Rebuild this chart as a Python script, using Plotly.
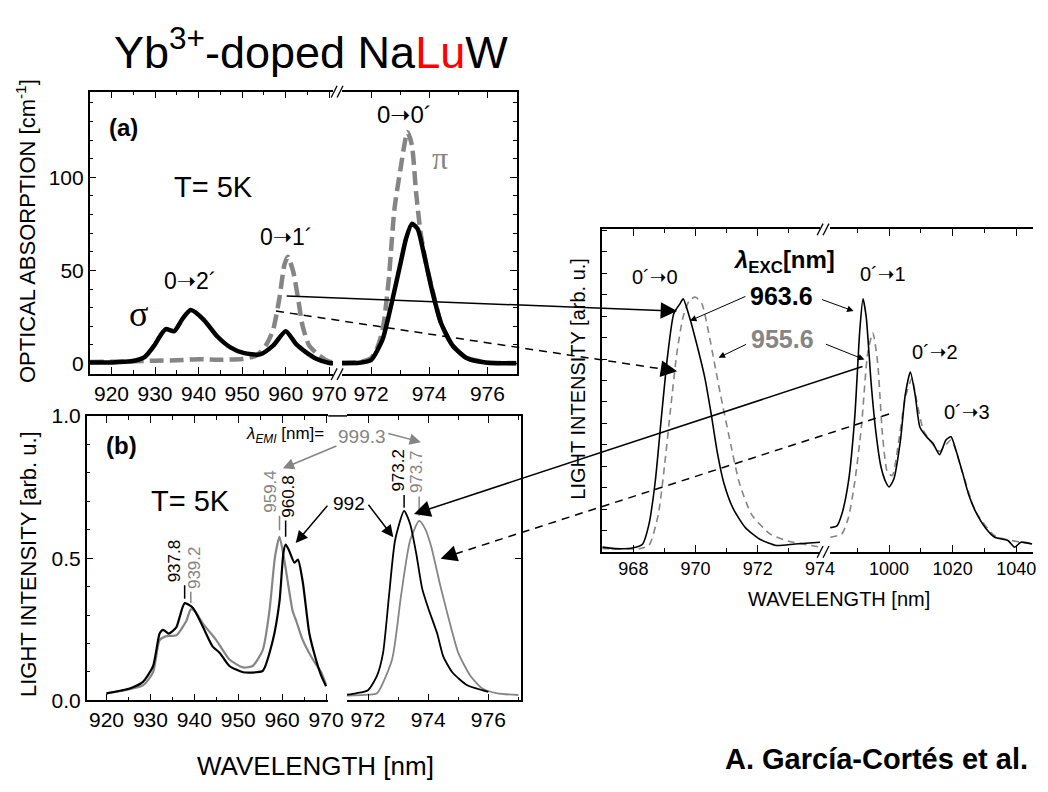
import plotly.graph_objects as go

W, H = 1048, 792
FONT = "Liberation Sans, Arial, Helvetica, sans-serif"
SERIF = "Liberation Serif, Times New Roman, serif"
BLACK = "#000000"
GRAY = "#858585"
ARR = "<span style='font-family:DejaVu Sans'>➝</span>"

# ---------------- (a) optical absorption, T = 5 K ----------------
a_sigma_left_x = [915, 920, 924.5, 927.6, 929.8, 931.4, 932.5, 934.4, 936.3, 938.2, 941.2,
                  944.2, 947.3, 950.3, 954.1, 957.1, 960.0, 962.4, 964.7, 967.0, 970.0, 970.9]
a_sigma_left_y = [0.5, 0.6, 1.2, 3.5, 9.6, 15.7, 18.5, 17.4, 24.0, 28.7, 23.5,
                  14.8, 8.7, 5.7, 4.9, 9.6, 17.4, 10.4, 6.0, 2.6, 0.3, 0.2]
a_pi_left_x = [915, 920, 925, 930, 935, 940, 945, 950, 953, 954.1, 955.5, 957.1, 958.6,
               959.7, 960.5, 961.7, 962.8, 963.9, 965.4, 967.7, 970.0, 970.9]
a_pi_left_y = [0.8, 1.0, 1.3, 1.5, 1.8, 2.3, 2.0, 2.5, 4.0, 6.0, 10.0, 18.0, 35.6,
               53.0, 57.4, 49.6, 35.6, 20.0, 9.6, 4.3, 1.0, 0.8]
a_sigma_right_x = [971.0, 971.6, 972.0, 972.4, 972.7, 973.0, 973.2, 973.4, 973.6, 973.8,
                   974.1, 974.4, 974.8, 975.3, 976.0, 977.0]
a_sigma_right_y = [0.2, 0.4, 1.9, 13.2, 32.0, 53.0, 67.0, 75.0, 72.3, 60.0,
                   39.0, 21.9, 9.7, 2.8, 0.4, 0.2]
a_pi_right_x = [971.0, 971.6, 972.0, 972.2, 972.4, 972.6, 972.8, 973.0, 973.25, 973.4,
                973.55, 973.7, 973.9, 974.1, 974.4, 974.8, 975.3, 976.0, 977.0]
a_pi_right_y = [0.5, 0.8, 3.0, 8.0, 18.4, 44.0, 82.6, 103.5, 124.3, 117.4,
                91.3, 70.5, 53.0, 40.0, 22.0, 9.5, 3.0, 0.6, 0.3]

# ---------------- (b) excitation spectra, lambda_EMI = 992 / 999.3 nm ----------------
b_992_left_x = [920, 925.3, 928.3, 930.6, 932.1, 932.9, 934.2, 935.9, 937.8, 939.7, 942.0,
                944.2, 945.8, 948.0, 951.1, 954.1, 955.6, 957.9, 959.4, 960.3, 960.8, 961.5,
                962.8, 963.6, 964.7, 966.2, 967.7, 968.9, 970.0]
b_992_left_y = [0.025, 0.042, 0.065, 0.12, 0.235, 0.248, 0.235, 0.257, 0.342, 0.325, 0.257,
                0.189, 0.167, 0.121, 0.099, 0.099, 0.104, 0.212, 0.348, 0.52, 0.548, 0.53,
                0.484, 0.495, 0.416, 0.235, 0.144, 0.087, 0.05]
b_999_left_x = [920, 928.3, 930.6, 932.1, 933.6, 935.9, 938.2, 939.2, 940.2, 942.0, 945.0,
                948.0, 951.1, 953.3, 955.6, 957.1, 958.4, 959.4, 960.6, 962.4, 963.2, 964.7,
                967.0, 968.9, 970.0]
b_999_left_y = [0.025, 0.053, 0.099, 0.212, 0.226, 0.229, 0.28, 0.32, 0.312, 0.269, 0.212,
                0.144, 0.116, 0.121, 0.178, 0.314, 0.507, 0.575, 0.484, 0.314, 0.28, 0.212,
                0.144, 0.099, 0.055]
b_992_right_x = [971.3, 971.6, 972.0, 972.3, 972.5, 972.7, 972.9, 973.2, 973.4, 973.6, 973.8,
                 974.0, 974.3, 974.5, 974.8, 975.3, 975.8, 976.0]
b_992_right_y = [0.02, 0.025, 0.036, 0.087, 0.167, 0.37, 0.563, 0.666, 0.62, 0.518, 0.393,
                 0.325, 0.235, 0.155, 0.099, 0.053, 0.036, 0.03]
b_999_right_x = [971.3, 972.0, 972.3, 972.8, 973.1, 973.4, 973.7, 973.9, 974.1, 974.4, 974.7,
                 975.0, 975.4, 975.8, 976.3, 977.0]
b_999_right_y = [0.017, 0.02, 0.025, 0.144, 0.37, 0.563, 0.631, 0.603, 0.541, 0.405, 0.28,
                 0.167, 0.087, 0.042, 0.025, 0.019]

# peak markers in (b): label value, colour, marker bottom / top, horizontal label shift (px)
b_peaks_left = [(937.8, BLACK, 0.357, 0.405, -10), (939.2, GRAY, 0.342, 0.382, 3),
                (959.4, GRAY, 0.598, 0.649, -9), (960.8, BLACK, 0.575, 0.632, 2)]
b_peaks_right = [(973.2, BLACK, 0.677, 0.722, -6), (973.7, GRAY, 0.649, 0.717, -2)]

# ---------------- right panel: emission spectra, lambda_EXC = 963.6 / 955.6 nm ----------------
c_9636_left_x = [967.0, 967.4, 968.0, 968.3, 968.5, 968.7, 968.9, 969.1, 969.3, 969.5, 969.6,
                 969.8, 970.05, 970.3, 970.5, 970.7, 970.9, 971.2, 971.6, 972.05, 972.6, 973.2, 974.0]
c_9636_left_y = [0.022, 0.015, 0.019, 0.037, 0.128, 0.325, 0.628, 0.916, 1.113, 1.159, 1.181,
                 1.098, 0.962, 0.81, 0.644, 0.462, 0.325, 0.204, 0.113, 0.06, 0.03, 0.037, 0.045]
c_9556_left_x = [967.0, 968.2, 968.5, 968.8, 969.0, 969.2, 969.4, 969.6, 969.8, 970.0, 970.2,
                 970.4, 970.6, 970.8, 971.1, 971.4, 971.8, 972.4, 972.9, 973.7, 974.0]
c_9556_left_y = [0.015, 0.015, 0.03, 0.174, 0.401, 0.674, 0.931, 1.098, 1.174, 1.189, 1.159,
                 1.037, 0.886, 0.734, 0.522, 0.325, 0.174, 0.083, 0.053, 0.03, 0.022]
c_9636_right_x = [981.5, 983.6, 985.1, 987.2, 989.2, 990.8, 991.8, 992.8, 994.4, 995.9, 997.4,
                  999.0, 1000.0, 1001.5, 1003.6, 1005.1, 1006.7, 1008.2, 1009.7, 1011.8, 1013.8,
                  1015.9, 1017.9, 1019.5, 1021.0, 1023.1, 1025.1, 1027.2, 1030.3, 1033.3, 1037.4,
                  1039.5, 1041.5, 1045.0]
c_9636_right_y = [0.113, 0.121, 0.174, 0.325, 0.628, 1.037, 1.181, 1.098, 0.78, 0.553, 0.401,
                  0.325, 0.303, 0.34, 0.522, 0.734, 0.84, 0.734, 0.583, 0.537, 0.507,
                  0.454, 0.522, 0.537, 0.477, 0.371, 0.265, 0.189, 0.113, 0.068, 0.053,
                  0.022, 0.045, 0.037]
c_9556_right_x = [981.5, 985.1, 987.2, 989.2, 991.3, 993.3, 994.9, 996.4, 997.9, 999.5, 1001.0,
                  1003.1, 1005.1, 1007.2, 1008.7, 1010.8, 1012.8, 1015.9, 1019.5, 1023.1, 1027.2,
                  1033.3, 1045.0]
c_9556_right_y = [0.068, 0.083, 0.159, 0.325, 0.583, 0.931, 1.022, 0.886, 0.553, 0.371, 0.356,
                  0.522, 0.719, 0.81, 0.704, 0.568, 0.522, 0.469, 0.522, 0.371, 0.189,
                  0.075, 0.037]


def P(x, y):
    """pixel position -> paper coordinates"""
    return x / W, 1 - y / H


def xd(left, right):
    return [left / W, right / W]


def yd(top, bottom):
    return [1 - bottom / H, 1 - top / H]


fig = go.Figure()


def add_curve(x, y, xa, ya, color, width, dash=None):
    fig.add_trace(go.Scatter(
        x=x, y=y, xaxis=xa, yaxis=ya, mode="lines",
        line=dict(color=color, width=width, dash=dash, shape="spline", smoothing=0.6),
        hoverinfo="skip", showlegend=False))


add_curve(a_pi_left_x, a_pi_left_y, "x", "y", GRAY, 4.5, "14px,6px")
add_curve(a_sigma_left_x, a_sigma_left_y, "x", "y", BLACK, 4.5)
add_curve(a_pi_right_x, a_pi_right_y, "x2", "y2", GRAY, 4.5, "14px,6px")
add_curve(a_sigma_right_x, a_sigma_right_y, "x2", "y2", BLACK, 4.5)

add_curve(b_999_left_x, b_999_left_y, "x3", "y3", GRAY, 2.2)
add_curve(b_992_left_x, b_992_left_y, "x3", "y3", BLACK, 2.2)
add_curve(b_999_right_x, b_999_right_y, "x4", "y4", GRAY, 1.8)
add_curve(b_992_right_x, b_992_right_y, "x4", "y4", BLACK, 1.8)

add_curve(c_9556_left_x, c_9556_left_y, "x5", "y5", GRAY, 1.6, "7px,5px")
add_curve(c_9636_left_x, c_9636_left_y, "x5", "y5", BLACK, 1.6)
add_curve(c_9556_right_x, c_9556_right_y, "x6", "y6", GRAY, 1.6, "7px,5px")
add_curve(c_9636_right_x, c_9636_right_y, "x6", "y6", BLACK, 1.6)


def ax_style(size=21, **kw):
    base = dict(showline=True, linecolor="black", linewidth=1.5, ticks="inside",
                tickcolor="black", tickwidth=1.2, ticklen=7, showgrid=False, zeroline=False,
                tickfont=dict(family=FONT, size=size, color="black"), fixedrange=True)
    base.update(kw)
    return base


minor = lambda d, t0=None, ln=4: dict(dtick=d, tick0=t0, ticklen=ln, ticks="inside",
                                      tickcolor="black", tickwidth=1.1, showgrid=False)

fig.update_layout(
    width=W, height=H, margin=dict(l=0, r=0, t=0, b=0),
    paper_bgcolor="white", plot_bgcolor="white", showlegend=False,
    # (a)
    xaxis=ax_style(domain=xd(91, 338), range=[915, 970.9], anchor="y", dtick=10, tick0=920,
                   mirror="ticks", minor=minor(5, 915)),
    yaxis=ax_style(domain=yd(82, 373), range=[-5.7, 146], anchor="x", dtick=50, tick0=0,
                   minor=minor(10, 0)),
    xaxis2=ax_style(domain=xd(347, 524), range=[971, 977], anchor="y2", dtick=2, tick0=972,
                    mirror="ticks", minor=minor(1, 971)),
    yaxis2=ax_style(domain=yd(82, 373), range=[-5.7, 146], anchor="x2", side="right",
                    dtick=50, tick0=0, showticklabels=False, minor=minor(10, 0)),
    # (b)
    xaxis3=ax_style(domain=xd(88, 333), range=[915.5, 970.5], anchor="y3", dtick=10, tick0=920,
                    mirror="ticks", minor=minor(5, 915)),
    yaxis3=ax_style(domain=yd(416, 709), range=[0, 1.0], anchor="x3", dtick=0.5, tick0=0,
                    tickformat=".1f", minor=minor(0.1, 0)),
    xaxis4=ax_style(domain=xd(352, 529), range=[971.3, 977.1], anchor="y4", dtick=2, tick0=972,
                    mirror="ticks", minor=minor(1, 971)),
    yaxis4=ax_style(domain=yd(416, 709), range=[0, 1.0], anchor="x4", side="right",
                    dtick=0.5, tick0=0, showticklabels=False),
    # emission panel
    xaxis5=ax_style(size=18, domain=xd(611, 832), range=[967, 974], anchor="y5", dtick=2,
                    tick0=968, mirror="ticks", minor=minor(1, 967)),
    yaxis5=ax_style(domain=yd(224, 556), range=[0, 1.505], anchor="x5", dtick=0.1, tick0=0,
                    ticklen=5, showticklabels=False),
    xaxis6=ax_style(size=18, domain=xd(842, 1048), range=[981.4, 1045.3], anchor="y6",
                    dtick=20, tick0=1000, mirror="ticks", minor=minor(10, 990)),
    yaxis6=dict(domain=yd(224, 556), range=[0, 1.505], anchor="x6", showline=False,
                showticklabels=False, ticks="", showgrid=False, zeroline=False, fixedrange=True),
)

shapes = []


def seg(p0, p1, color=BLACK, width=1.5, dash=None):
    x0, y0 = P(*p0)
    x1, y1 = P(*p1)
    shapes.append(dict(type="line", xref="paper", yref="paper", x0=x0, y0=y0, x1=x1, y1=y1,
                       line=dict(color=color, width=width, dash=dash), layer="above"))


# axis break marks
for bx, by in [(336, 82), (336, 373), (829, 224), (829, 556)]:
    seg((bx, by + 6), (bx + 6, by - 6), width=1.3)
    seg((bx + 6, by + 6), (bx + 12, by - 6), width=1.3)
# continuous top frame of (b)
seg((333, 416), (352, 416))

# peak markers in (b)
for val, col, y0, y1, _ in b_peaks_left:
    shapes.append(dict(type="line", xref="x3", yref="y3", x0=val, x1=val, y0=y0, y1=y1,
                       line=dict(color=col, width=1.5)))
for val, col, y0, y1, _ in b_peaks_right:
    shapes.append(dict(type="line", xref="x4", yref="y4", x0=val, x1=val, y0=y0, y1=y1,
                       line=dict(color=col, width=1.5)))

annotations = []


def text(x, y, s, size=22, color=BLACK, family=FONT, angle=0, xanchor="center", yanchor="middle"):
    px, py = P(x, y)
    annotations.append(dict(x=px, y=py, xref="paper", yref="paper", text=s, showarrow=False,
                            textangle=angle, xanchor=xanchor, yanchor=yanchor,
                            font=dict(family=family, size=size, color=color)))


def arrow(tail, head, color=BLACK, width=1.5, size=2.2, style=2):
    hx, hy = P(*head)
    annotations.append(dict(x=hx, y=hy, xref="paper", yref="paper", axref="pixel", ayref="pixel",
                            ax=tail[0] - head[0], ay=tail[1] - head[1], text="", showarrow=True,
                            arrowhead=style, arrowsize=size, arrowwidth=width, arrowcolor=color,
                            standoff=0, startstandoff=0))


def dashed_arrow(tail, head, width=1.5, size=2.2):
    dx, dy = head[0] - tail[0], head[1] - tail[1]
    n = (dx * dx + dy * dy) ** 0.5
    back = (head[0] - dx / n * 14, head[1] - dy / n * 14)
    seg(tail, back, width=width, dash="8px,6px")
    arrow(back, head, width=width, size=size)


# title and credit
text(316, 38, "Yb<sup>3+</sup>-doped Na<span style='color:red'>Lu</span>W", size=45)
text(733, 769, "<b>A. García-Cortés et al.</b>", size=29, xanchor="left")

# axis titles
text(27, 226, "OPTICAL ABSORPTION [cm<sup>-1</sup>]", size=22, angle=-90)
text(29, 569, "LIGHT INTENSITY [arb. u.]", size=22, angle=-90)
text(320, 777, "WAVELENGTH [nm]", size=26)
text(586, 378, "LIGHT INTENSITY [arb. u.]", size=20, angle=-90)
text(851, 605, "WAVELENGTH [nm]", size=20)

# (a) labels
text(125, 119, "<b>(a)</b>", size=24)
text(217, 180, "T= 5K", size=29)
text(193, 277, "0" + ARR + "2´", size=23)
text(141, 311, "σ", size=36, family=SERIF)
text(291, 232, "0" + ARR + "1´", size=23)
text(410, 106, "0" + ARR + "0´", size=24)
text(446, 150, "π", size=32, color=GRAY, family=SERIF)

# (b) labels
text(123, 446, "<b>(b)</b>", size=24)
text(193, 504, "T= 5K", size=29)
text(289, 436, "<i>λ</i><sub><i>EMI</i></sub> [nm]=", size=17)
text(367, 437, "999.3", size=19, color=GRAY)
text(354, 506, "992", size=19)
for val, col, y0, y1, dx in b_peaks_left:
    annotations.append(dict(x=val, y=y1, xref="x3", yref="y3", text=f"{val:.1f}", showarrow=False,
                            textangle=-90, xanchor="center", yanchor="bottom", xshift=dx, yshift=1,
                            font=dict(family=FONT, size=17, color=col)))
for val, col, y0, y1, dx in b_peaks_right:
    annotations.append(dict(x=val, y=y1, xref="x4", yref="y4", text=f"{val:.1f}", showarrow=False,
                            textangle=-90, xanchor="center", yanchor="bottom", xshift=dx, yshift=1,
                            font=dict(family=FONT, size=17, color=col)))
arrow((342, 447), (287, 470), color=GRAY, size=1.5)
arrow((393, 434), (427, 443), color=GRAY, size=1.5)
arrow((333, 508), (300, 547), size=1.6)
arrow((373, 507), (399, 541), size=1.6)

# emission panel labels
text(795, 257, "<b><i>λ</i><sub>EXC</sub>[nm]</b>", size=24)
text(793, 293, "<b>963.6</b>", size=25)
text(794, 337, "<b>955.6</b>", size=25, color=GRAY)
text(665, 273, "0´" + ARR + "0", size=20)
text(896, 270, "0´" + ARR + "1", size=20)
text(949, 350, "0´" + ARR + "2", size=20)
text(981, 412, "0´" + ARR + "3", size=20)
arrow((757, 293), (700, 318), width=1, size=1.3)
arrow((833, 296), (866, 308), width=1, size=1.3)
arrow((758, 342), (729, 356), width=1, size=1.3)
arrow((837, 342), (877, 358), width=1, size=1.3)

# connectors between panels
arrow((295, 293), (687, 308))
dashed_arrow((280, 308), (687, 370))
arrow((870, 369), (420, 517))
dashed_arrow((902, 414), (447, 563))

fig.update_layout(shapes=shapes, annotations=annotations)
fig.write_html("out.html")
